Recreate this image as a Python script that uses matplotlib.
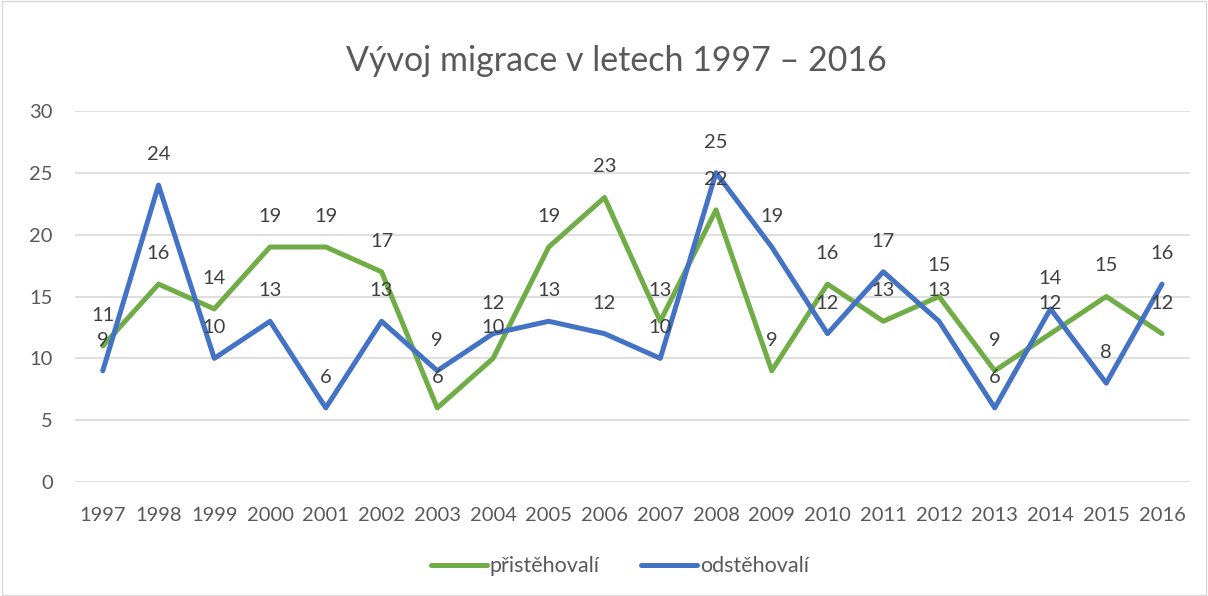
import matplotlib.pyplot as plt

years = [str(y) for y in range(1997, 2017)]
prist = [11, 16, 14, 19, 19, 17, 6, 10, 19, 23, 13, 22, 9, 16, 13, 15, 9, 12, 15, 12]
odst = [9, 24, 10, 13, 6, 13, 9, 12, 13, 12, 10, 25, 19, 12, 17, 13, 6, 14, 8, 16]

plt.rcParams['font.family'] = ['Lato', 'DejaVu Sans']

fig = plt.figure(figsize=(12.08, 5.96), dpi=100)
ax = fig.add_axes([0.062, 0.191, 0.923, 0.623])

x = list(range(len(years)))
ax.plot(x, prist, color='#70AD47', lw=3.6, label='přistěhovalí', solid_capstyle='round')
ax.plot(x, odst, color='#4472C4', lw=3.6, label='odstěhovalí', solid_capstyle='round')

for xi, v in zip(x, prist):
    ax.annotate(str(v), (xi, v), xytext=(0, 22), textcoords='offset points',
                ha='center', va='center', fontsize=14.5, color='#404040')
for xi, v in zip(x, odst):
    ax.annotate(str(v), (xi, v), xytext=(0, 22), textcoords='offset points',
                ha='center', va='center', fontsize=14.5, color='#404040')

ax.set_xlim(-0.5, len(years) - 0.5)
ax.set_ylim(0, 30)
ax.set_yticks(range(0, 31, 5))
ax.set_xticks(x)
ax.set_xticklabels(years)
ax.tick_params(length=0, labelsize=14.5, colors='#595959')
ax.tick_params(axis='x', pad=18)
ax.tick_params(axis='y', pad=16)
ax.grid(axis='y', color='#D9D9D9', lw=1.2)
ax.set_axisbelow(True)
for s in ax.spines.values():
    s.set_visible(False)

fig.suptitle('Vývoj migrace v letech 1997 – 2016', x=0.51, y=0.925, fontsize=24.5, color='#595959')

fig.legend(loc='center', bbox_to_anchor=(0.513, 0.05), ncol=2, frameon=False,
           fontsize=15.5, labelcolor='#595959', handlelength=2.6, handletextpad=0.15,
           columnspacing=1.9)

fig.patches.append(plt.Rectangle((0.002, 0.002), 0.996, 0.996, transform=fig.transFigure,
                                 fill=False, edgecolor='#D9D9D9', lw=1))

fig.savefig('out.png', dpi=100)
